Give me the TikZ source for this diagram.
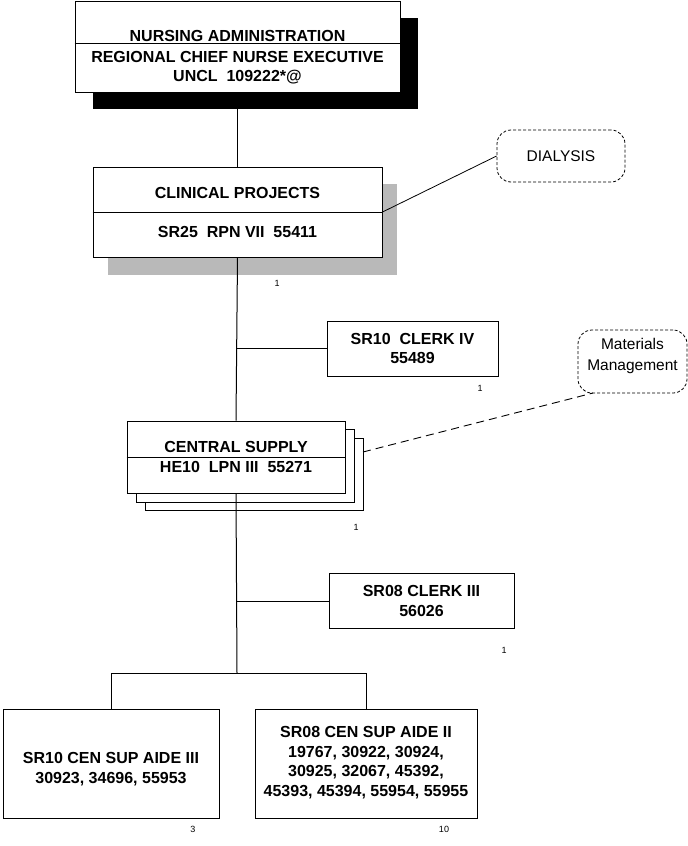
\documentclass[tikz,border=0pt]{standalone}
\usepackage{fontspec}
\setmainfont{Liberation Sans}
\begin{document}
\begin{tikzpicture}[x=1pt,y=-1pt,
  box/.style={draw=black, line width=1pt, fill=white, inner sep=0pt},
  cloud/.style={draw=black, line width=0.8pt, dash pattern=on 3pt off 2pt, rounded corners=14pt, inner sep=0pt},
  txt/.style={font=\bfseries\fontsize{16}{19.5}\selectfont, inner sep=0pt, align=center},
  ntxt/.style={font=\fontsize{15.5}{21}\selectfont, inner sep=0pt, align=center},
  cnt/.style={font=\fontsize{9}{10}\selectfont, inner sep=0pt},
  wire/.style={line width=1pt}]
\useasboundingbox (0,0) rectangle (688,846);

% top box
\fill[black] (93,18) rectangle (418,109);
\node[box, minimum width=325pt, minimum height=91pt] (adm) at (237.5,46.5) {};
\coordinate (admdiv) at (237.5,43);
\draw[wire] (adm.west |- admdiv) -- (adm.east |- admdiv);
\node[txt] (admA) at (237.5,36) {NURSING ADMINISTRATION};
\node[txt] (admB) at (237.5,57) {REGIONAL CHIEF NURSE EXECUTIVE};
\node[txt] (admC) at (237.5,77) {UNCL\ \ 109222*@};

% clinical projects
\fill[gray!55] (108,184) rectangle (397,275);
\node[box, minimum width=289pt, minimum height=90pt] (clin) at (237.5,212) {};
\draw[wire] (clin.west) -- (clin.east);
\node[txt] (clinA) at (237.5,193) {CLINICAL PROJECTS};
\node[txt] (clinB) at (237.5,232) {SR25\ \ RPN VII\ \ 55411};
\node[cnt] (clinN) at (277,283) {1};

% dialysis
\node[cloud, minimum width=128pt, minimum height=52pt] (dia) at (561,156) {};
\node[ntxt] (diaT) at (561,156) {DIALYSIS};
\draw[line width=0.8pt] (clin.east) -- (dia.west);

% clerk IV
\node[box, minimum width=171pt, minimum height=55pt] (clk4) at (412.5,348.5) {};
\node[txt] (clk4T) at (412.5,348.5) {SR10\ \ CLERK IV\\55489};
\node[cnt] (clk4N) at (480,388) {1};

% central supply stack
\node[box, minimum width=218pt, minimum height=72pt] (cs3) at (254,474) {};
\node[box, minimum width=218pt, minimum height=73pt] (cs2) at (245,465.5) {};
\node[box, minimum width=218pt, minimum height=72pt] (cs) at (236,457) {};
\draw[wire] (cs.west) -- (cs.east);
\node[txt] (csA) at (236,447) {CENTRAL SUPPLY};
\node[txt] (csB) at (236,466.5) {HE10\ \ LPN III\ \ 55271};
\node[cnt] (csN) at (356,527) {1};

% materials management
\node[cloud, minimum width=109pt, minimum height=63pt] (mat) at (632.5,361.5) {};
\node[ntxt] (matT) at (632.5,356) {Materials\\Management};
\coordinate (csright) at (363,452);
\coordinate (matfoot) at (593,393);
\draw[line width=0.9pt, dash pattern=on 8pt off 5pt] (csright) -- (matfoot);

% clerk III
\node[box, minimum width=185pt, minimum height=55pt] (clk3) at (421.5,601) {};
\node[txt] (clk3T) at (421.5,601) {SR08 CLERK III\\56026};
\node[cnt] (clk3N) at (504,650) {1};

% bottom boxes
\node[box, minimum width=216pt, minimum height=109pt] (aide3) at (111,763.5) {};
\node[txt] (aide3T) at (111,769) {SR10 CEN SUP AIDE III\\30923, 34696, 55953};
\node[cnt] (aide3N) at (193,829) {3};
\node[box, minimum width=222pt, minimum height=109pt] (aide2) at (366,763.5) {};
\node[txt] (aide2T) at (366,762.5) {SR08 CEN SUP AIDE II\\19767, 30922, 30924,\\30925, 32067, 45392,\\45393, 45394, 55954, 55955};
\node[cnt] (aide2N) at (444,829) {10};

% connectors
\coordinate (j4) at (237,348.5);
\coordinate (j3) at (237,601);
\coordinate (bus) at (237,673);
\coordinate (busL) at (111,673);
\coordinate (busR) at (366,673);
\draw[wire] (adm.south) -- (clin.north);
\draw[wire] (clin.south) -- (cs.north);
\draw[wire] (cs.south) -- (bus);
\draw[wire] (j4) -- (clk4.west);
\draw[wire] (j3) -- (clk3.west);
\draw[wire] (aide3.north) -- (busL) -- (busR) -- (aide2.north);
\end{tikzpicture}
\end{document}
